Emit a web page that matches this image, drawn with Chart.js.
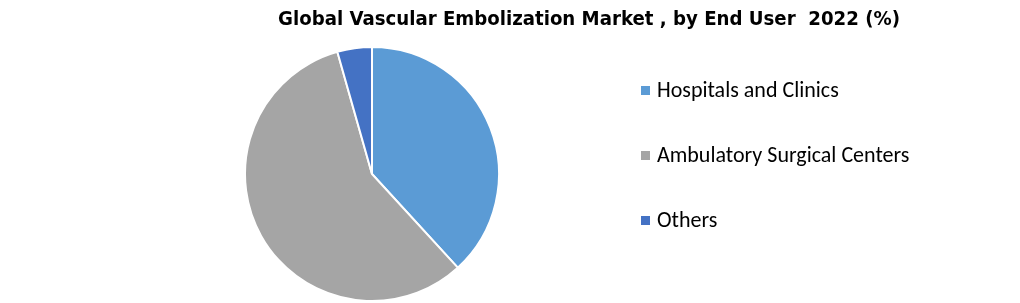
<!DOCTYPE html>
<html>
<head>
<meta charset="utf-8">
<script src="https://cdn.jsdelivr.net/npm/chart.js@4.4.0/dist/chart.umd.min.js"></script>
<style>
  html, body { margin: 0; padding: 0; background: #fff; }
  #wrap { position: relative; width: 1020px; height: 303px; overflow: hidden; }
  #title {
    position: absolute; left: 589px; top: 6px; transform: translateX(-50%);
    white-space: pre; font-family: "DejaVu Sans Condensed", sans-serif;
    font-weight: bold; font-size: 20.2px; color: #000;
  }
  #legend { position: absolute; left: 641px; top: 77px; font-family: Carlito, Lato, sans-serif; font-size: 22px; color: #000; }
  .item { height: 65px; display: flex; align-items: flex-start; line-height: 26px; }
  .box { width: 9px; height: 9px; margin-top: 9px; margin-right: 7px; }
</style>
</head>
<body>
<div id="wrap">
  <canvas id="pie" width="1020" height="303"></canvas>
  <div id="title"></div>
  <div id="legend"></div>
</div>
<script>
// Chart text and values
const TITLE = 'Global Vascular Embolization Market , by End User  2022 (%)';
const categories = ['Hospitals and Clinics', 'Ambulatory Surgical Centers', 'Others'];
const shares = [38.2, 57.4, 4.4];
const colors = ['#5B9BD5', '#A5A5A5', '#4472C4'];

document.getElementById('title').textContent = TITLE;

// HTML legend built from the same arrays
const legend = document.getElementById('legend');
categories.forEach((c, i) => {
  const row = document.createElement('div');
  row.className = 'item';
  row.innerHTML = `<span class="box" style="background:${colors[i]}"></span><span>${c}</span>`;
  legend.appendChild(row);
});

new Chart(document.getElementById('pie'), {
  type: 'pie',
  data: {
    labels: categories,
    datasets: [{
      data: shares,
      backgroundColor: colors,
      borderColor: '#ffffff',
      borderWidth: 2
    }]
  },
  options: {
    responsive: false,
    animation: false,
    layout: { padding: { top: 46, bottom: 1, left: 0, right: 276 } },
    plugins: {
      legend: { display: false },
      title: { display: false },
      tooltip: { enabled: false }
    }
  }
});
</script>
</body>
</html>
